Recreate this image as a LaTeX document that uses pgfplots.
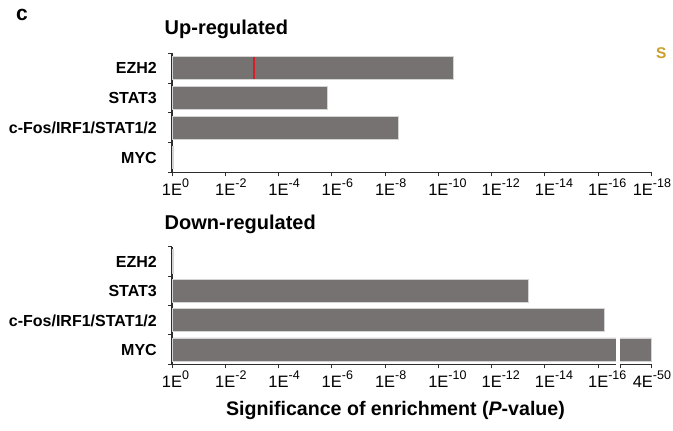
\documentclass[border=0pt]{standalone}
\usepackage{pgfplots}
\pgfplotsset{compat=1.18}
\usepackage{fontspec}
\setmainfont{Liberation Sans}
\definecolor{barfill}{RGB}{118,114,113}
\definecolor{baredge}{RGB}{212,212,212}
\definecolor{axcol}{RGB}{45,45,45}
\definecolor{sgold}{RGB}{204,160,40}
\definecolor{redline}{RGB}{215,30,40}
\newcommand{\tl}[2]{#1E\rlap{\raisebox{8.4bp}{\fontsize{12.5bp}{12.5bp}\selectfont #2}}}
\newcommand{\tle}[2]{\makebox[0pt][r]{#1E\raisebox{8.4bp}{\fontsize{12.5bp}{12.5bp}\selectfont #2}\hspace{-19.5bp}}}
\pgfplotsset{
  mystyle/.style={
    scale only axis, width=479.5bp,
    xmin=0, xmax=18, ymin=-0.5, ymax=3.5, y dir=reverse,
    axis x line*=bottom, axis y line*=left,
    xtick={0,2,...,18},
    tick align=outside, major tick length=4bp,
    ytick={-0.5,0.5,1.5,2.5,3.5}, yticklabels={{},{},{},{},{}},
    extra y ticks={0,1,2,3},
    extra y tick labels={EZH2,STAT3,c-Fos/IRF1/STAT1/2,MYC},
    extra y tick style={major tick length=0pt, tick style={draw=none},
      yticklabel style={anchor=base east, inner sep=0pt, xshift=-15bp, yshift=-5.8bp,
        font=\fontsize{16bp}{16bp}\selectfont\bfseries}},
    axis line style={axcol, line width=1.1bp},
    tick style={axcol, line width=1bp},
    xticklabel style={font=\fontsize{16.5bp}{16.5bp}\selectfont, inner sep=0pt, anchor=north, yshift=-2bp},
    clip=false,
  },
}
\begin{document}
\begin{tikzpicture}[x=1bp,y=1bp]
\useasboundingbox (0,0) rectangle (673bp,431bp);
% Top panel
\begin{axis}[mystyle, at={(172bp,258.7bp)}, anchor=south west, height=119bp,
  xticklabels={{\tl{1}{0}},{\tl{1}{-2}},{\tl{1}{-4}},{\tl{1}{-6}},{\tl{1}{-8}},{\tl{1}{-10}},{\tl{1}{-12}},{\tl{1}{-14}},{\tl{1}{-16}},{\tle{1}{-18}}}]
\addplot[xbar, bar width=0.76, fill=barfill, draw=baredge, line width=0.8bp]
  coordinates {(10.57,0) (5.84,1) (8.48,2) (0.04,3)};
\addplot[redline, line width=2.2bp] coordinates {(3.09,-0.38) (3.09,0.38)};
\end{axis}
% Bottom panel
\begin{axis}[mystyle, at={(172bp,66.7bp)}, anchor=south west, height=117.6bp,
  extra x ticks={16.85}, extra x tick labels={},
  xticklabels={{\tl{1}{0}},{\tl{1}{-2}},{\tl{1}{-4}},{\tl{1}{-6}},{\tl{1}{-8}},{\tl{1}{-10}},{\tl{1}{-12}},{\tl{1}{-14}},{\tl{1}{-16}},{\tle{4}{-50}}}]
\addplot[xbar, bar width=0.79, fill=barfill, draw=baredge, line width=0.8bp]
  coordinates {(0.04,0) (13.37,1) (16.25,2) (18,3)};
\end{axis}
% axis break gap (MYC, 4E-50)
\fill[white] (615.8bp,61bp) rectangle (620.4bp,95bp);
% Texts
\node[anchor=base west, inner sep=0pt, font=\fontsize{21bp}{21bp}\selectfont\bfseries] at (16bp,410bp) {c};
\node[anchor=base west, inner sep=0pt, font=\fontsize{20bp}{20bp}\selectfont\bfseries] at (164.5bp,396bp) {Up-regulated};
\node[anchor=base west, inner sep=0pt, font=\fontsize{20bp}{20bp}\selectfont\bfseries] at (164.5bp,201bp) {Down-regulated};
\node[anchor=base west, inner sep=0pt, text=sgold, font=\fontsize{15.5bp}{15.5bp}\selectfont\bfseries] at (656bp,372.7bp) {S};
\node[anchor=base, inner sep=0pt, font=\fontsize{19.6bp}{19.6bp}\selectfont\bfseries] at (395.5bp,16bp) {Significance of enrichment (\textit{P}-value)};
\end{tikzpicture}
\end{document}
